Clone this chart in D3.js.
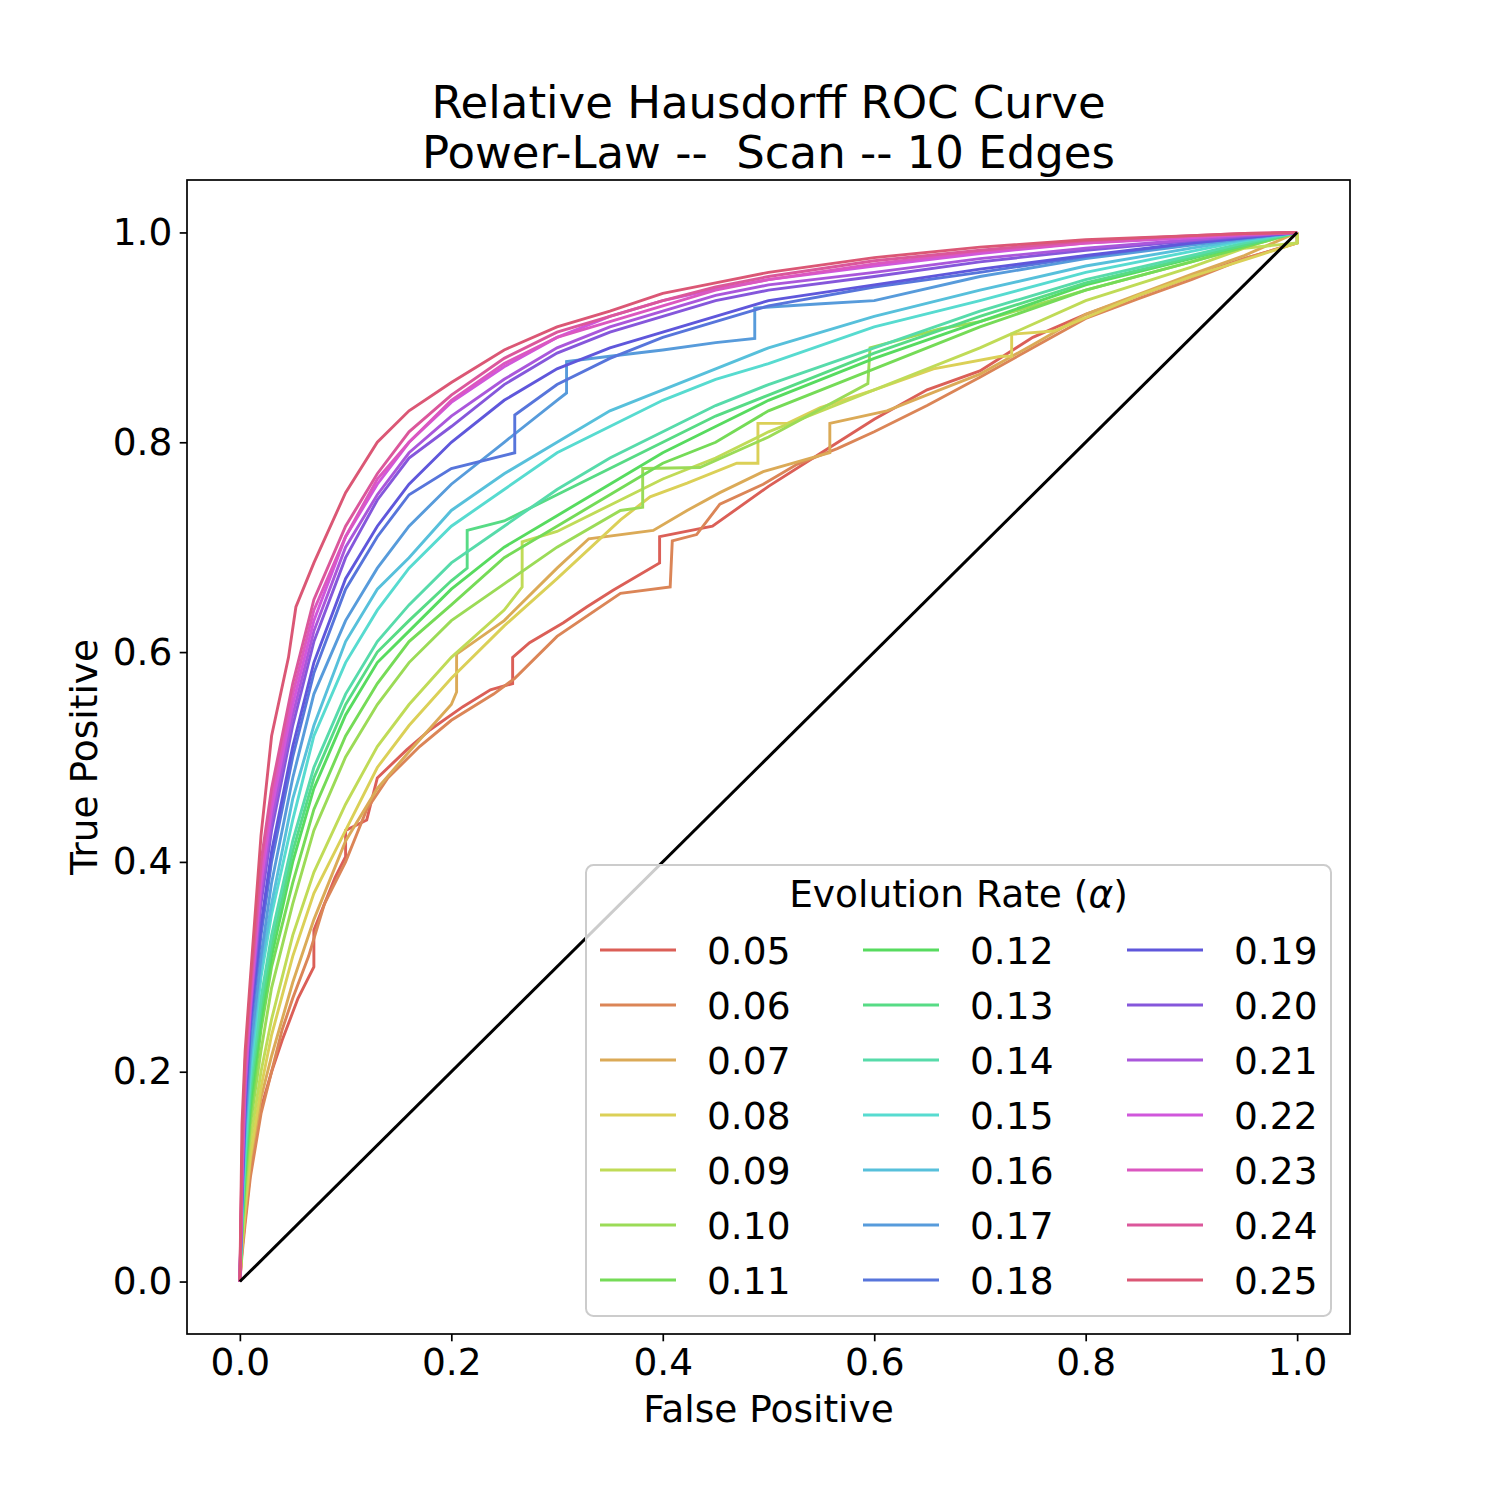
<!DOCTYPE html>
<html>
<head>
<meta charset="utf-8">
<script src="https://cdn.jsdelivr.net/npm/d3@7"></script>
<style>
  html, body { margin: 0; padding: 0; background: #ffffff; }
  svg { display: block; font-family: "DejaVu Sans", sans-serif; }
</style>
</head>
<body>
<svg id="chart" width="1500" height="1500"></svg>
<script>
// ---------------- data ----------------
const titleLines = ["Relative Hausdorff ROC Curve", "Power-Law --  Scan -- 10 Edges"];
const xLabel = "False Positive";
const yLabel = "True Positive";
const legendTitle = "Evolution Rate (";
const xTicks = [0.0, 0.2, 0.4, 0.6, 0.8, 1.0];
const yTicks = [0.0, 0.2, 0.4, 0.6, 0.8, 1.0];
const alphaLabels = ["0.05","0.06","0.07","0.08","0.09","0.10","0.11","0.12","0.13","0.14",
                     "0.15","0.16","0.17","0.18","0.19","0.20","0.21","0.22","0.23","0.24","0.25"];

// [false positive, true positive] pairs
const roc05 = [[0,0],[0.002,0.03],[0.005,0.06],[0.01,0.105],[0.02,0.165],[0.03,0.2],[0.04,0.23],[0.055,0.27],[0.07,0.3],[0.07,0.335],[0.09,0.385],[0.1,0.405],[0.1,0.43],[0.12,0.44],[0.13,0.48],[0.158,0.507],[0.18,0.526],[0.211,0.548],[0.237,0.564],[0.258,0.57],[0.258,0.595],[0.274,0.609],[0.306,0.628],[0.328,0.643],[0.353,0.659],[0.397,0.685],[0.397,0.71],[0.447,0.72],[0.5,0.758],[0.55,0.79],[0.6,0.822],[0.65,0.85],[0.7,0.868],[0.75,0.9],[0.8,0.922],[0.85,0.94],[0.9,0.958],[0.95,0.975],[1,0.99],[1,1]];
const roc06 = [[0,0],[0.002,0.025],[0.005,0.055],[0.01,0.1],[0.02,0.16],[0.03,0.2],[0.04,0.24],[0.05,0.27],[0.065,0.31],[0.08,0.36],[0.1,0.4],[0.12,0.45],[0.14,0.48],[0.17,0.51],[0.2,0.535],[0.24,0.56],[0.26,0.575],[0.3,0.615],[0.36,0.656],[0.407,0.662],[0.409,0.706],[0.432,0.712],[0.454,0.741],[0.495,0.76],[0.527,0.779],[0.565,0.794],[0.6,0.81],[0.65,0.835],[0.7,0.862],[0.75,0.89],[0.8,0.918],[0.85,0.937],[0.9,0.955],[0.95,0.975],[1,0.99],[1,1]];
const roc07 = [[0,0],[0.002,0.03],[0.005,0.065],[0.01,0.115],[0.02,0.175],[0.03,0.215],[0.05,0.285],[0.07,0.345],[0.1,0.42],[0.13,0.47],[0.16,0.505],[0.2,0.55],[0.205,0.562],[0.205,0.598],[0.25,0.63],[0.3,0.68],[0.33,0.708],[0.391,0.716],[0.423,0.735],[0.454,0.752],[0.495,0.772],[0.558,0.79],[0.558,0.818],[0.612,0.83],[0.662,0.85],[0.7,0.865],[0.75,0.893],[0.8,0.922],[0.9,0.96],[0.95,0.978],[1,1]];
const roc08 = [[0,0],[0.002,0.035],[0.005,0.07],[0.01,0.12],[0.02,0.185],[0.03,0.235],[0.05,0.31],[0.07,0.37],[0.1,0.43],[0.13,0.49],[0.16,0.53],[0.2,0.575],[0.25,0.625],[0.3,0.67],[0.36,0.726],[0.388,0.748],[0.423,0.761],[0.47,0.78],[0.49,0.78],[0.49,0.818],[0.518,0.818],[0.549,0.833],[0.6,0.85],[0.656,0.87],[0.72,0.882],[0.73,0.882],[0.73,0.903],[0.77,0.906],[0.85,0.94],[0.9,0.958],[0.96,0.977],[1,0.99],[1,1]];
const roc09 = [[0,0],[0.002,0.04],[0.005,0.08],[0.01,0.135],[0.02,0.2],[0.03,0.25],[0.05,0.33],[0.07,0.39],[0.1,0.455],[0.13,0.51],[0.16,0.55],[0.2,0.595],[0.25,0.64],[0.267,0.662],[0.267,0.705],[0.3,0.715],[0.35,0.74],[0.4,0.765],[0.45,0.785],[0.5,0.81],[0.6,0.85],[0.7,0.89],[0.8,0.935],[0.9,0.967],[0.95,0.985],[1,0.99],[1,1]];
const roc10 = [[0,0],[0.002,0.045],[0.005,0.09],[0.01,0.15],[0.02,0.22],[0.03,0.28],[0.05,0.36],[0.07,0.43],[0.1,0.5],[0.13,0.55],[0.16,0.59],[0.2,0.63],[0.25,0.665],[0.3,0.7],[0.36,0.735],[0.381,0.738],[0.381,0.775],[0.435,0.776],[0.5,0.805],[0.594,0.856],[0.596,0.89],[0.662,0.908],[0.7,0.915],[0.8,0.945],[0.9,0.972],[0.95,0.986],[1,1]];
const roc11 = [[0,0],[0.002,0.05],[0.005,0.1],[0.01,0.16],[0.02,0.24],[0.03,0.3],[0.05,0.38],[0.07,0.45],[0.1,0.52],[0.13,0.57],[0.16,0.61],[0.2,0.645],[0.25,0.69],[0.3,0.72],[0.35,0.75],[0.4,0.78],[0.45,0.8],[0.5,0.83],[0.6,0.87],[0.7,0.91],[0.8,0.945],[0.9,0.972],[0.95,0.986],[1,1]];
const roc12 = [[0,0],[0.002,0.05],[0.005,0.11],[0.01,0.17],[0.02,0.25],[0.03,0.31],[0.05,0.4],[0.07,0.47],[0.1,0.54],[0.13,0.59],[0.16,0.62],[0.2,0.66],[0.25,0.7],[0.3,0.73],[0.35,0.76],[0.4,0.79],[0.45,0.815],[0.5,0.84],[0.6,0.88],[0.7,0.915],[0.8,0.95],[0.9,0.975],[0.95,0.988],[1,1]];
const roc13 = [[0,0],[0.002,0.055],[0.005,0.11],[0.01,0.18],[0.02,0.26],[0.03,0.32],[0.05,0.41],[0.07,0.48],[0.1,0.55],[0.13,0.6],[0.16,0.63],[0.2,0.668],[0.215,0.68],[0.215,0.716],[0.25,0.725],[0.3,0.75],[0.35,0.775],[0.4,0.8],[0.45,0.825],[0.5,0.845],[0.6,0.885],[0.7,0.92],[0.8,0.952],[0.9,0.976],[0.95,0.988],[1,1]];
const roc14 = [[0,0],[0.002,0.06],[0.005,0.12],[0.01,0.19],[0.02,0.27],[0.03,0.33],[0.05,0.42],[0.07,0.49],[0.1,0.56],[0.13,0.61],[0.16,0.645],[0.2,0.685],[0.25,0.72],[0.3,0.755],[0.35,0.785],[0.4,0.81],[0.45,0.835],[0.5,0.855],[0.6,0.89],[0.7,0.925],[0.8,0.955],[0.9,0.978],[0.95,0.99],[1,1]];
const roc15 = [[0,0],[0.002,0.065],[0.005,0.13],[0.01,0.2],[0.02,0.29],[0.03,0.35],[0.05,0.44],[0.07,0.52],[0.1,0.59],[0.13,0.64],[0.16,0.68],[0.2,0.72],[0.25,0.755],[0.3,0.79],[0.35,0.815],[0.4,0.84],[0.45,0.86],[0.5,0.875],[0.6,0.91],[0.7,0.935],[0.8,0.962],[0.9,0.982],[0.95,0.992],[1,1]];
const roc16 = [[0,0],[0.002,0.07],[0.005,0.14],[0.01,0.21],[0.02,0.3],[0.03,0.36],[0.05,0.46],[0.07,0.53],[0.1,0.61],[0.13,0.66],[0.16,0.69],[0.2,0.735],[0.25,0.77],[0.3,0.8],[0.35,0.83],[0.4,0.85],[0.45,0.87],[0.5,0.89],[0.6,0.92],[0.7,0.945],[0.8,0.968],[0.9,0.985],[0.95,0.993],[1,1]];
const roc17 = [[0,0],[0.002,0.075],[0.005,0.15],[0.01,0.22],[0.02,0.31],[0.03,0.38],[0.05,0.48],[0.07,0.56],[0.1,0.63],[0.13,0.68],[0.16,0.72],[0.2,0.76],[0.25,0.8],[0.3,0.84],[0.309,0.847],[0.309,0.877],[0.35,0.882],[0.4,0.888],[0.45,0.895],[0.487,0.899],[0.487,0.928],[0.55,0.932],[0.6,0.935],[0.7,0.958],[0.8,0.975],[0.9,0.988],[0.95,0.994],[1,1]];
const roc18 = [[0,0],[0.002,0.08],[0.005,0.16],[0.01,0.24],[0.02,0.33],[0.03,0.4],[0.05,0.5],[0.07,0.58],[0.1,0.66],[0.13,0.71],[0.16,0.75],[0.2,0.775],[0.26,0.79],[0.26,0.826],[0.3,0.855],[0.35,0.88],[0.4,0.9],[0.45,0.915],[0.5,0.93],[0.6,0.948],[0.7,0.962],[0.8,0.977],[0.9,0.99],[0.95,0.995],[1,1]];
const roc19 = [[0,0],[0.002,0.085],[0.005,0.17],[0.01,0.25],[0.02,0.34],[0.03,0.41],[0.05,0.51],[0.07,0.59],[0.1,0.67],[0.13,0.72],[0.16,0.76],[0.2,0.8],[0.25,0.84],[0.3,0.87],[0.35,0.89],[0.4,0.905],[0.45,0.92],[0.5,0.935],[0.6,0.95],[0.7,0.965],[0.8,0.978],[0.9,0.99],[0.95,0.995],[1,1]];
const roc20 = [[0,0],[0.002,0.09],[0.005,0.18],[0.01,0.255],[0.02,0.36],[0.03,0.43],[0.05,0.53],[0.07,0.61],[0.1,0.69],[0.13,0.745],[0.16,0.785],[0.2,0.815],[0.25,0.855],[0.3,0.885],[0.35,0.905],[0.4,0.92],[0.45,0.935],[0.5,0.945],[0.6,0.958],[0.7,0.972],[0.8,0.983],[0.9,0.992],[0.95,0.996],[1,1]];
const roc21 = [[0,0],[0.002,0.095],[0.005,0.185],[0.01,0.26],[0.02,0.37],[0.03,0.44],[0.05,0.54],[0.07,0.62],[0.1,0.7],[0.13,0.75],[0.16,0.79],[0.2,0.825],[0.25,0.86],[0.3,0.89],[0.35,0.91],[0.4,0.925],[0.45,0.94],[0.5,0.95],[0.6,0.962],[0.7,0.975],[0.8,0.985],[0.9,0.993],[0.95,0.997],[1,1]];
const roc22 = [[0,0],[0.002,0.1],[0.005,0.19],[0.01,0.265],[0.02,0.38],[0.03,0.45],[0.05,0.55],[0.07,0.63],[0.1,0.71],[0.13,0.76],[0.16,0.8],[0.2,0.838],[0.25,0.872],[0.3,0.9],[0.35,0.92],[0.4,0.935],[0.45,0.946],[0.5,0.955],[0.6,0.968],[0.7,0.98],[0.8,0.99],[0.9,0.995],[0.95,0.998],[1,1]];
const roc23 = [[0,0],[0.002,0.11],[0.005,0.2],[0.01,0.27],[0.02,0.39],[0.03,0.46],[0.05,0.56],[0.07,0.64],[0.1,0.71],[0.13,0.765],[0.16,0.8],[0.2,0.84],[0.25,0.875],[0.3,0.9],[0.35,0.915],[0.4,0.93],[0.45,0.945],[0.5,0.955],[0.6,0.97],[0.7,0.982],[0.8,0.99],[0.9,0.996],[0.95,0.998],[1,1]];
const roc24 = [[0,0],[0.002,0.12],[0.005,0.21],[0.01,0.28],[0.02,0.4],[0.03,0.47],[0.05,0.57],[0.07,0.65],[0.1,0.72],[0.13,0.77],[0.16,0.81],[0.2,0.845],[0.25,0.88],[0.3,0.905],[0.35,0.92],[0.4,0.935],[0.45,0.948],[0.5,0.958],[0.6,0.973],[0.7,0.983],[0.8,0.992],[0.9,0.997],[0.95,0.999],[1,1]];
const roc25 = [[0,0],[0.002,0.15],[0.005,0.22],[0.01,0.29],[0.02,0.425],[0.03,0.52],[0.046,0.595],[0.053,0.643],[0.07,0.685],[0.1,0.752],[0.13,0.8],[0.16,0.83],[0.2,0.857],[0.25,0.888],[0.3,0.91],[0.35,0.925],[0.4,0.942],[0.45,0.952],[0.5,0.962],[0.6,0.976],[0.7,0.986],[0.8,0.993],[0.9,0.997],[0.95,0.999],[1,1]];
const chanceLine = [[0,0],[1,1]];

const curves = [roc05,roc06,roc07,roc08,roc09,roc10,roc11,roc12,roc13,roc14,roc15,
                roc16,roc17,roc18,roc19,roc20,roc21,roc22,roc23,roc24,roc25];

// ---------------- drawing ----------------
(function () {
const svg = d3.select("#chart");
const FONT = 37.5;
const pL = 187, pR = 1350, pT = 180, pB = 1334;

const x = d3.scaleLinear().domain([-0.05, 1.05]).range([pL, pR]);
const y = d3.scaleLinear().domain([-0.05, 1.05]).range([pB, pT]);

// seaborn-like hls palette
const n = alphaLabels.length;
const colors = alphaLabels.map((_, i) => {
  const h = (i / n + 0.01) % 1;
  return d3.hsl(h * 360, 0.65, 0.6).formatHex();
});

svg.append("rect").attr("x", 0).attr("y", 0).attr("width", 1500).attr("height", 1500).attr("fill", "#fff");

svg.append("clipPath").attr("id", "clip").append("rect")
  .attr("x", pL).attr("y", pT).attr("width", pR - pL).attr("height", pB - pT);

const line = d3.line().x(d => x(d[0])).y(d => y(d[1]));

const curveG = svg.append("g").attr("clip-path", "url(#clip)");
curves.forEach((c, i) => {
  curveG.append("path")
    .attr("d", line(c))
    .attr("fill", "none")
    .attr("stroke", colors[i])
    .attr("stroke-width", 2.9)
    .attr("stroke-linejoin", "miter");
});
curveG.append("path")
  .attr("d", line(chanceLine))
  .attr("fill", "none")
  .attr("stroke", "#000")
  .attr("stroke-width", 3);

// axes
const fmt = d3.format(".1f");
const xAxis = svg.append("g").attr("transform", `translate(0,${pB})`)
  .call(d3.axisBottom(x).tickValues(xTicks).tickFormat(fmt).tickSize(7.3).tickPadding(7.3).tickSizeOuter(0));
const yAxis = svg.append("g").attr("transform", `translate(${pL},0)`)
  .call(d3.axisLeft(y).tickValues(yTicks).tickFormat(fmt).tickSize(7.3).tickPadding(7.3).tickSizeOuter(0));
[xAxis, yAxis].forEach(a => {
  a.select(".domain").remove();
  a.selectAll(".tick line").attr("stroke", "#000").attr("stroke-width", 1.7);
  a.selectAll(".tick text").attr("fill", "#000").style("font-size", FONT + "px").style("font-family", "DejaVu Sans");
});

// frame
svg.append("rect")
  .attr("x", pL).attr("y", pT).attr("width", pR - pL).attr("height", pB - pT)
  .attr("fill", "none").attr("stroke", "#000").attr("stroke-width", 1.7);

// title
svg.append("text").attr("x", (pL + pR) / 2).attr("y", 118)
  .attr("text-anchor", "middle").style("font-size", "45px").text(titleLines[0]);
svg.append("text").attr("x", (pL + pR) / 2).attr("y", 168)
  .attr("text-anchor", "middle").style("font-size", "45px")
  .style("white-space", "pre").text(titleLines[1]);

// axis labels
svg.append("text").attr("x", (pL + pR) / 2).attr("y", 1422)
  .attr("text-anchor", "middle").style("font-size", FONT + "px").text(xLabel);
svg.append("text").attr("transform", `translate(97,${(pT + pB) / 2}) rotate(-90)`)
  .attr("text-anchor", "middle").style("font-size", FONT + "px").text(yLabel);

// legend
const lg = svg.append("g");
lg.append("rect").attr("x", 586).attr("y", 865).attr("width", 745).attr("height", 451)
  .attr("rx", 7.5).attr("ry", 7.5)
  .attr("fill", "#fff").attr("fill-opacity", 0.8)
  .attr("stroke", "#cccccc").attr("stroke-width", 2);
const lt = lg.append("text").attr("x", 958.5).attr("y", 907).attr("text-anchor", "middle")
  .style("font-size", FONT + "px");
lt.append("tspan").text(legendTitle);
lt.append("tspan").style("font-style", "italic").text("\u03B1");
lt.append("tspan").text(")");

const colX = [600, 863, 1127];
const rowY0 = 950, rowStep = 55, rowsPerCol = 7;
alphaLabels.forEach((lab, i) => {
  const c = Math.floor(i / rowsPerCol), r = i % rowsPerCol;
  const cx = colX[c], cy = rowY0 + r * rowStep;
  lg.append("line").attr("x1", cx).attr("x2", cx + 76).attr("y1", cy).attr("y2", cy)
    .attr("stroke", colors[i]).attr("stroke-width", 2.9);
  lg.append("text").attr("x", cx + 107).attr("y", cy + 13.5)
    .style("font-size", FONT + "px").text(lab);
});
})();
</script>
</body>
</html>
